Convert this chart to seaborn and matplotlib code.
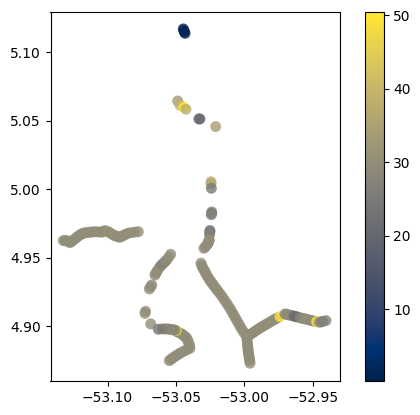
import numpy as np
import pandas as pd
import matplotlib
matplotlib.use('Agg')
import matplotlib.pyplot as plt
import seaborn as sns

# drawing order matters (later points sit on top)
lon = [
    # dark cluster at the top
    -53.0446, -53.0442, -53.0438, -53.0433,
    # points around 5.05
    -53.0487, -53.0470, -53.0441, -53.0426, -53.0332, -53.0324, -53.0209,
    # around 5.00
    -53.0243, -53.0243, -53.0241,
    -53.0238, -53.0239, -53.0241,
    # short track under that
    -53.0251, -53.0252, -53.0254, -53.0256, -53.0259, -53.0262, -53.0267, -53.0272, -53.0285, -53.0295,
    # long left track
    -53.1323, -53.1310, -53.1300, -53.1287, -53.1274, -53.1262, -53.1250, -53.1237, -53.1225, -53.1212,
    -53.1200, -53.1188, -53.1177, -53.1160, -53.1145, -53.1130, -53.1115, -53.1098, -53.1080, -53.1060,
    -53.1042, -53.1030, -53.1018, -53.1004, -53.0990, -53.0975, -53.0958, -53.0947, -53.0935, -53.0922,
    -53.0909, -53.0895, -53.0880, -53.0865, -53.0848, -53.0825, -53.0800, -53.0775,
    # middle track
    -53.0653, -53.0646, -53.0640, -53.0628, -53.0616, -53.0603, -53.0590, -53.0578, -53.0567, -53.0552, -53.0538,
    -53.0677, -53.0685, -53.0694, -53.0726, -53.0722, -53.0684,
    # bottom hook
    -53.0548, -53.0536, -53.0525, -53.0512, -53.0500, -53.0485, -53.0470, -53.0452, -53.0435, -53.0416,
    -53.0397, -53.0400, -53.0405, -53.0412, -53.0421, -53.0430, -53.0440, -53.0449, -53.0458, -53.0474,
    -53.0490, -53.0497, -53.0505, -53.0519, -53.0530, -53.0540, -53.0553, -53.0567, -53.0584, -53.0600, -53.0629,
    # long diagonal down to the junction
    -53.0317, -53.0311, -53.0305, -53.0298, -53.0290, -53.0283, -53.0275, -53.0265, -53.0255, -53.0245,
    -53.0235, -53.0225, -53.0214, -53.0202, -53.0190, -53.0175, -53.0160, -53.0145, -53.0129, -53.0115,
    -53.0100, -53.0088, -53.0075, -53.0063, -53.0050, -53.0037, -53.0025, -53.0012, -53.0000, -52.9982,
    # stub going south
    -52.9981, -52.9980, -52.9978, -52.9977, -52.9975, -52.9973, -52.9972, -52.9970, -52.9968, -52.9965,
    -52.9963, -52.9960, -52.9958,
    # east branch
    -52.9965, -52.9950, -52.9935, -52.9920, -52.9905, -52.9890, -52.9875, -52.9860, -52.9845,
    -52.9830, -52.9815, -52.9800, -52.9785, -52.9770, -52.9755, -52.9739, -52.9702, -52.9691, -52.9680, -52.9665,
    -52.9650, -52.9637, -52.9625, -52.9610, -52.9590, -52.9575, -52.9560, -52.9545, -52.9530, -52.9515,
    -52.9500, -52.9485, -52.9471, -52.9450, -52.9437, -52.9425, -52.9403,
]
lat = [
    5.1171, 5.1160, 5.1150, 5.1139,
    5.0645, 5.0614, 5.0599, 5.0585, 5.0514, 5.0514, 5.0458,
    5.0056, 5.0040, 5.0008,
    4.9835, 4.9825, 4.9815,
    4.9699, 4.9685, 4.9670, 4.9631, 4.9623, 4.9615, 4.9605, 4.9595, 4.9580, 4.9570,
    4.9626, 4.9626, 4.9625, 4.9618, 4.9611, 4.9620, 4.9630, 4.9640, 4.9650, 4.9660,
    4.9668, 4.9675, 4.9680, 4.9683, 4.9685, 4.9687, 4.9689, 4.9690, 4.9690, 4.9689,
    4.9687, 4.9693, 4.9699, 4.9694, 4.9688, 4.9678, 4.9667, 4.9662, 4.9658, 4.9654,
    4.9650, 4.9658, 4.9665, 4.9673, 4.9680, 4.9684, 4.9688, 4.9691,
    4.9375, 4.9388, 4.9400, 4.9418, 4.9436, 4.9450, 4.9462, 4.9474, 4.9485, 4.9505, 4.9526,
    4.9302, 4.9288, 4.9273, 4.9095, 4.9110, 4.9018,
    4.8750, 4.8759, 4.8768, 4.8776, 4.8785, 4.8794, 4.8804, 4.8813, 4.8822, 4.8831,
    4.8840, 4.8858, 4.8875, 4.8895, 4.8913, 4.8922, 4.8930, 4.8938, 4.8945, 4.8953,
    4.8960, 4.8970, 4.8972, 4.8974, 4.8976, 4.8978, 4.8980, 4.8981, 4.8981, 4.8981, 4.8979,
    4.9461, 4.9445, 4.9430, 4.9418, 4.9405, 4.9390, 4.9375, 4.9358, 4.9342, 4.9328,
    4.9315, 4.9300, 4.9285, 4.9270, 4.9255, 4.9235, 4.9215, 4.9192, 4.9169, 4.9147,
    4.9125, 4.9102, 4.9080, 4.9058, 4.9035, 4.9012, 4.8990, 4.8970, 4.8950, 4.8937,
    4.8920, 4.8905, 4.8888, 4.8870, 4.8855, 4.8840, 4.8825, 4.8810, 4.8795, 4.8780,
    4.8765, 4.8750, 4.8731,
    4.8935, 4.8945, 4.8955, 4.8965, 4.8975, 4.8985, 4.8994, 4.9003, 4.9012,
    4.9020, 4.9029, 4.9038, 4.9047, 4.9055, 4.9063, 4.9071, 4.9090, 4.9088, 4.9085, 4.9081,
    4.9078, 4.9075, 4.9071, 4.9068, 4.9062, 4.9058, 4.9055, 4.9052, 4.9048, 4.9044,
    4.9040, 4.9037, 4.9034, 4.9030, 4.9033, 4.9036, 4.9042,
]
val = [
    1, 1, 1, 1,
    33, 40, 50, 38, 21, 20, 34,
    38, 36, 25,
    26, 25, 27,
    20, 24, 27, 30, 30, 30, 30, 30, 30, 30,
    30, 30, 30, 30, 30, 30, 30, 30, 30, 30,
    30, 30, 30, 30, 30, 30, 30, 30, 30, 30,
    30, 30, 30, 30, 31, 30, 30, 32, 30, 30,
    30, 30, 30, 30, 30, 30, 30, 30,
    29, 30, 30, 30, 30, 27, 27, 29, 29, 30, 30,
    29, 30, 30, 30, 30, 30,
    30, 30, 30, 30, 30, 30, 30, 30, 30, 30,
    30, 30, 30, 30, 30, 30, 30, 30, 30, 30,
    30, 50, 29, 27, 28, 29, 29, 28, 29, 27, 24,
    30, 30, 30, 30, 30, 30, 30, 30, 30, 30,
    30, 30, 30, 30, 30, 30, 30, 30, 30, 30,
    30, 30, 30, 30, 30, 30, 30, 30, 30, 30,
    30, 30, 30, 30, 30, 30, 30, 30, 30, 30,
    30, 30, 30,
    30, 30, 30, 30, 30, 30, 30, 30, 30,
    30, 30, 30, 30, 30, 30, 50, 29, 29, 29, 29,
    29, 22, 21, 22, 28, 29, 30, 30, 30, 30,
    30, 30, 50, 29, 28, 27, 27,
]

df = pd.DataFrame({"lon": lon, "lat": lat, "val": val})

VMIN, VMAX = 0.2, 50.4

fig = plt.figure(figsize=(4.2, 4.15), dpi=100)
ax = fig.add_axes([50.5 / 420, 1 - 381 / 415, 289.5 / 420, 368.5 / 415])
cax = fig.add_axes([364.5 / 420, 1 - 381 / 415, 19 / 420, 368.5 / 415])

sns.scatterplot(data=df, x="lon", y="lat", hue="val", palette="cividis",
                hue_norm=(VMIN, VMAX), s=62, alpha=0.8, linewidth=0,
                legend=False, ax=ax)
ax.set_xlim(-53.1417, -52.9300)
ax.set_ylim(4.8601, 5.1291)
ax.set_xticks([-53.10, -53.05, -53.00, -52.95])
ax.set_yticks([4.90, 4.95, 5.00, 5.05, 5.10])
ax.set_xlabel("")
ax.set_ylabel("")

sm = plt.cm.ScalarMappable(norm=plt.Normalize(VMIN, VMAX), cmap="cividis")
cb = fig.colorbar(sm, cax=cax)
cb.set_ticks([10, 20, 30, 40, 50])

fig.savefig("out.png", dpi=100)
